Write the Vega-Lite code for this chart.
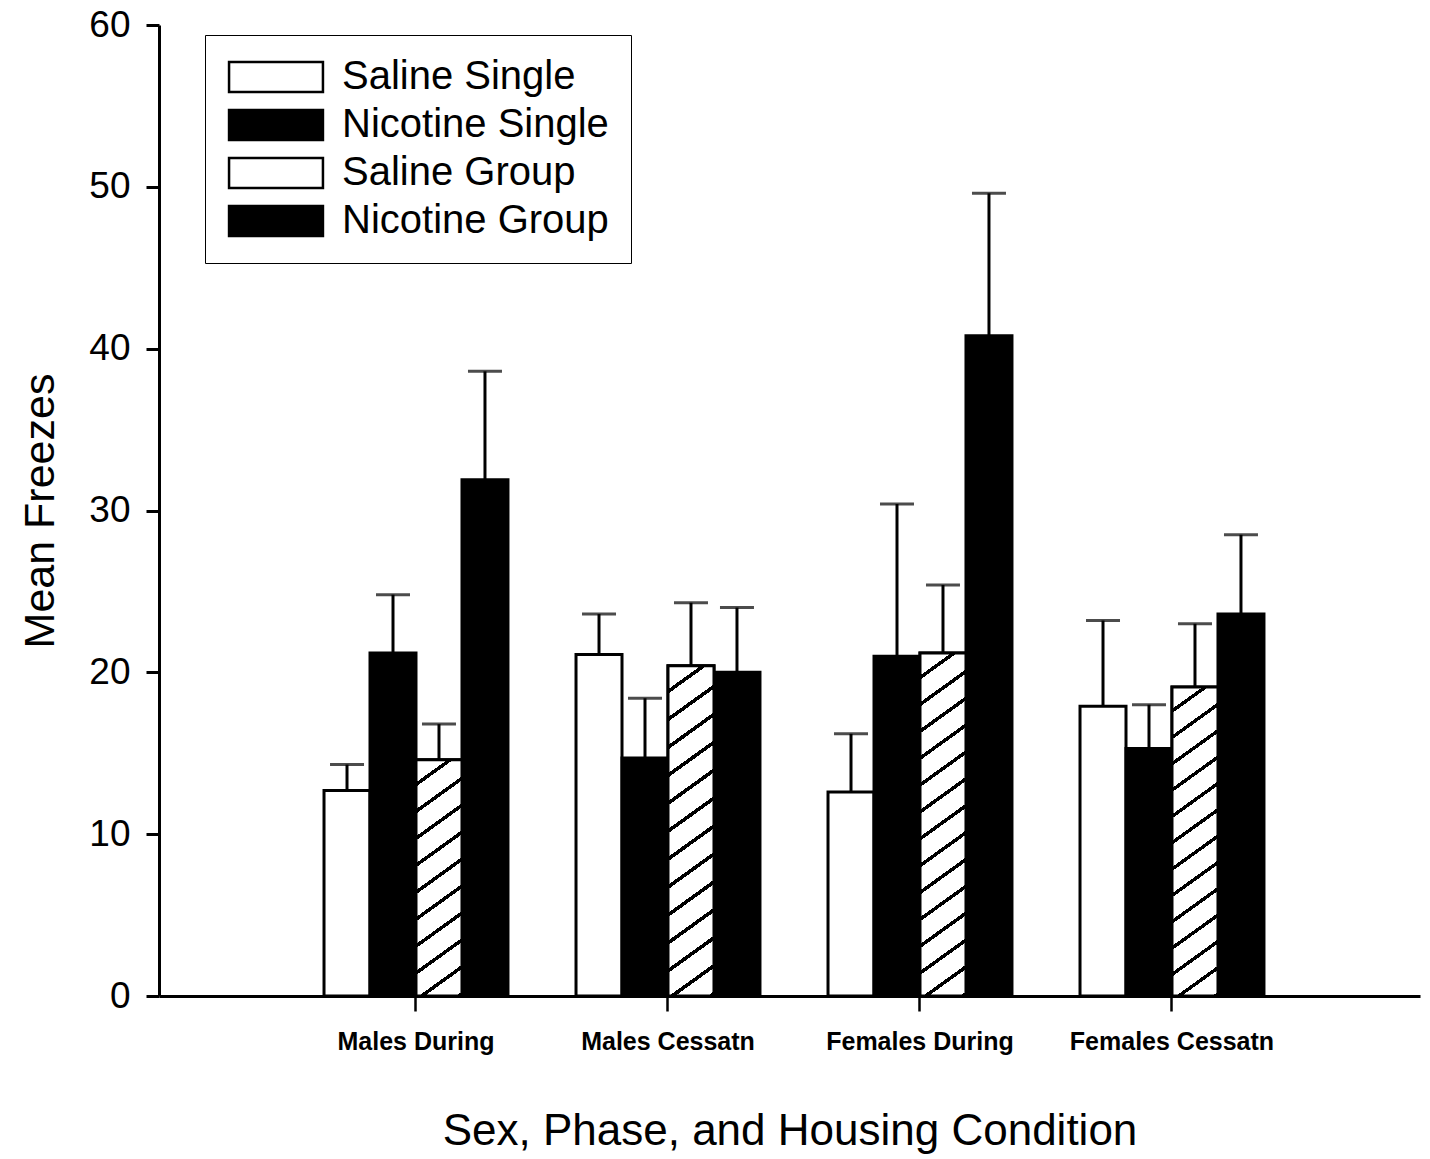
{
  "$schema": "https://vega.github.io/schema/vega-lite/v6.json",
  "width": 1261,
  "height": 971,
  "autosize": {"type": "none"},
  "padding": {"left": 159, "top": 25, "right": 10, "bottom": 163},
  "background": "white",
  "config": {"font": "Liberation Sans", "view": {"stroke": null}},
  "data": {
    "values": [
      {"condition": "Males During", "series": "Saline Single", "mean": 12.7, "upper": 14.3},
      {"condition": "Males During", "series": "Nicotine Single", "mean": 21.2, "upper": 24.8},
      {"condition": "Males During", "series": "Saline Group", "mean": 14.6, "upper": 16.8},
      {"condition": "Males During", "series": "Nicotine Group", "mean": 31.9, "upper": 38.6},
      {"condition": "Males Cessatn", "series": "Saline Single", "mean": 21.1, "upper": 23.6},
      {"condition": "Males Cessatn", "series": "Nicotine Single", "mean": 14.7, "upper": 18.4},
      {"condition": "Males Cessatn", "series": "Saline Group", "mean": 20.4, "upper": 24.3},
      {"condition": "Males Cessatn", "series": "Nicotine Group", "mean": 20.0, "upper": 24.0},
      {"condition": "Females During", "series": "Saline Single", "mean": 12.6, "upper": 16.2},
      {"condition": "Females During", "series": "Nicotine Single", "mean": 21.0, "upper": 30.4},
      {"condition": "Females During", "series": "Saline Group", "mean": 21.2, "upper": 25.4},
      {"condition": "Females During", "series": "Nicotine Group", "mean": 40.8, "upper": 49.6},
      {"condition": "Females Cessatn", "series": "Saline Single", "mean": 17.9, "upper": 23.2},
      {"condition": "Females Cessatn", "series": "Nicotine Single", "mean": 15.3, "upper": 18.0},
      {"condition": "Females Cessatn", "series": "Saline Group", "mean": 19.1, "upper": 23.0},
      {"condition": "Females Cessatn", "series": "Nicotine Group", "mean": 23.6, "upper": 28.5}
    ]
  },
  "encoding": {
    "x": {
      "field": "condition",
      "type": "nominal",
      "sort": ["Males During", "Males Cessatn", "Females During", "Females Cessatn"],
      "scale": {"paddingInner": 0.27, "paddingOuter": 0.637, "align": 0.514},
      "title": "Sex, Phase, and Housing Condition",
      "axis": {
        "labelAngle": 0,
        "domainColor": "black",
        "domainWidth": 3,
        "ticks": true,
        "tickColor": "black",
        "tickWidth": 2.5,
        "tickSize": 15,
        "labelFontSize": 25,
        "labelFontWeight": "bold",
        "labelColor": "black",
        "labelPadding": 18,
        "labelLimit": 400,
        "titleFontSize": 44,
        "titleFontWeight": "normal",
        "titleColor": "black",
        "titlePadding": 55,
        "grid": false
      }
    },
    "xOffset": {
      "field": "series",
      "type": "nominal",
      "scale": {
        "domain": ["Saline Single", "Nicotine Single", "Saline Group", "Nicotine Group"],
        "paddingInner": 0,
        "paddingOuter": 0
      }
    }
  },
  "layer": [
    {
      "mark": {"type": "bar", "stroke": "black", "strokeWidth": 3},
      "encoding": {
        "y": {
          "field": "mean",
          "type": "quantitative",
          "scale": {"domain": [0, 60], "nice": false},
          "title": "Mean Freezes",
          "axis": {
            "values": [0, 10, 20, 30, 40, 50, 60],
            "domainColor": "black",
            "domainWidth": 3,
            "tickColor": "black",
            "tickWidth": 3,
            "tickSize": 13,
            "labelFontSize": 37,
            "labelColor": "black",
            "labelPadding": 16,
            "grid": false,
            "titleFontSize": 43,
            "titleFontWeight": "normal",
            "titleColor": "black",
            "titlePadding": 26
          }
        },
        "fill": {
          "field": "series",
          "type": "nominal",
          "scale": {
            "domain": ["Saline Single", "Nicotine Single", "Saline Group", "Nicotine Group"],
            "range": ["white", "black", "white", "black"]
          },
          "legend": {
            "orient": "none",
            "legendX": 46,
            "legendY": 10,
            "title": null,
            "direction": "vertical",
            "symbolType": "M-3.13,-1H3.13V1H-3.13Z",
            "symbolSize": 900,
            "symbolOffset": 29,
            "symbolStrokeColor": "black",
            "symbolStrokeWidth": 2.5,
            "labelFontSize": 40,
            "labelColor": "black",
            "labelOffset": 46,
            "labelLimit": 500,
            "rowPadding": 8,
            "padding": 22,
            "strokeColor": "black",
            "fillColor": "white"
          }
        }
      }
    },
    {
      "transform": [{"filter": "datum.series === 'Saline Group' && datum.condition === 'Males During'"}],
      "mark": {
        "type": "bar", "stroke": "black", "strokeWidth": 3,
        "fill": {
          "gradient": "linear",
          "x1": 0, "y1": 0, "x2": 0.157, "y2": 1.118,
          "stops": [
            {"offset": 0, "color": "white"}, {"offset": 0.084, "color": "white"}, {"offset": 0.084, "color": "black"}, {"offset": 0.1, "color": "black"},
            {"offset": 0.1, "color": "white"}, {"offset": 0.184, "color": "white"}, {"offset": 0.184, "color": "black"}, {"offset": 0.2, "color": "black"},
            {"offset": 0.2, "color": "white"}, {"offset": 0.284, "color": "white"}, {"offset": 0.284, "color": "black"}, {"offset": 0.3, "color": "black"},
            {"offset": 0.3, "color": "white"}, {"offset": 0.384, "color": "white"}, {"offset": 0.384, "color": "black"}, {"offset": 0.4, "color": "black"},
            {"offset": 0.4, "color": "white"}, {"offset": 0.484, "color": "white"}, {"offset": 0.484, "color": "black"}, {"offset": 0.5, "color": "black"},
            {"offset": 0.5, "color": "white"}, {"offset": 0.584, "color": "white"}, {"offset": 0.584, "color": "black"}, {"offset": 0.6, "color": "black"},
            {"offset": 0.6, "color": "white"}, {"offset": 0.684, "color": "white"}, {"offset": 0.684, "color": "black"}, {"offset": 0.7, "color": "black"},
            {"offset": 0.7, "color": "white"}, {"offset": 0.784, "color": "white"}, {"offset": 0.784, "color": "black"}, {"offset": 0.8, "color": "black"},
            {"offset": 0.8, "color": "white"}, {"offset": 0.884, "color": "white"}, {"offset": 0.884, "color": "black"}, {"offset": 0.9, "color": "black"},
            {"offset": 0.9, "color": "white"}, {"offset": 0.984, "color": "white"}, {"offset": 0.984, "color": "black"}, {"offset": 1, "color": "black"}
          ]
        }
      },
      "encoding": {"y": {"field": "mean", "type": "quantitative"}}
    },
    {
      "transform": [{"filter": "datum.series === 'Saline Group' && datum.condition === 'Males Cessatn'"}],
      "mark": {
        "type": "bar", "stroke": "black", "strokeWidth": 3,
        "fill": {
          "gradient": "linear",
          "x1": 0, "y1": 0, "x2": 0.1093, "y2": 1.089,
          "stops": [
            {"offset": 0, "color": "white"}, {"offset": 0.0646, "color": "white"}, {"offset": 0.0646, "color": "black"}, {"offset": 0.0769, "color": "black"},
            {"offset": 0.0769, "color": "white"}, {"offset": 0.1415, "color": "white"}, {"offset": 0.1415, "color": "black"}, {"offset": 0.1538, "color": "black"},
            {"offset": 0.1538, "color": "white"}, {"offset": 0.2185, "color": "white"}, {"offset": 0.2185, "color": "black"}, {"offset": 0.2308, "color": "black"},
            {"offset": 0.2308, "color": "white"}, {"offset": 0.2954, "color": "white"}, {"offset": 0.2954, "color": "black"}, {"offset": 0.3077, "color": "black"},
            {"offset": 0.3077, "color": "white"}, {"offset": 0.3723, "color": "white"}, {"offset": 0.3723, "color": "black"}, {"offset": 0.3846, "color": "black"},
            {"offset": 0.3846, "color": "white"}, {"offset": 0.4492, "color": "white"}, {"offset": 0.4492, "color": "black"}, {"offset": 0.4615, "color": "black"},
            {"offset": 0.4615, "color": "white"}, {"offset": 0.5262, "color": "white"}, {"offset": 0.5262, "color": "black"}, {"offset": 0.5385, "color": "black"},
            {"offset": 0.5385, "color": "white"}, {"offset": 0.6031, "color": "white"}, {"offset": 0.6031, "color": "black"}, {"offset": 0.6154, "color": "black"},
            {"offset": 0.6154, "color": "white"}, {"offset": 0.68, "color": "white"}, {"offset": 0.68, "color": "black"}, {"offset": 0.6923, "color": "black"},
            {"offset": 0.6923, "color": "white"}, {"offset": 0.7569, "color": "white"}, {"offset": 0.7569, "color": "black"}, {"offset": 0.7692, "color": "black"},
            {"offset": 0.7692, "color": "white"}, {"offset": 0.8338, "color": "white"}, {"offset": 0.8338, "color": "black"}, {"offset": 0.8462, "color": "black"},
            {"offset": 0.8462, "color": "white"}, {"offset": 0.9108, "color": "white"}, {"offset": 0.9108, "color": "black"}, {"offset": 0.9231, "color": "black"},
            {"offset": 0.9231, "color": "white"}, {"offset": 0.9877, "color": "white"}, {"offset": 0.9877, "color": "black"}, {"offset": 1, "color": "black"}
          ]
        }
      },
      "encoding": {"y": {"field": "mean", "type": "quantitative"}}
    },
    {
      "transform": [{"filter": "datum.series === 'Saline Group' && datum.condition === 'Females During'"}],
      "mark": {
        "type": "bar", "stroke": "black", "strokeWidth": 3,
        "fill": {
          "gradient": "linear",
          "x1": 0, "y1": 0, "x2": 0.1048, "y2": 1.086,
          "stops": [
            {"offset": 0, "color": "white"}, {"offset": 0.06, "color": "white"}, {"offset": 0.06, "color": "black"}, {"offset": 0.0714, "color": "black"},
            {"offset": 0.0714, "color": "white"}, {"offset": 0.1314, "color": "white"}, {"offset": 0.1314, "color": "black"}, {"offset": 0.1429, "color": "black"},
            {"offset": 0.1429, "color": "white"}, {"offset": 0.2029, "color": "white"}, {"offset": 0.2029, "color": "black"}, {"offset": 0.2143, "color": "black"},
            {"offset": 0.2143, "color": "white"}, {"offset": 0.2743, "color": "white"}, {"offset": 0.2743, "color": "black"}, {"offset": 0.2857, "color": "black"},
            {"offset": 0.2857, "color": "white"}, {"offset": 0.3457, "color": "white"}, {"offset": 0.3457, "color": "black"}, {"offset": 0.3571, "color": "black"},
            {"offset": 0.3571, "color": "white"}, {"offset": 0.4171, "color": "white"}, {"offset": 0.4171, "color": "black"}, {"offset": 0.4286, "color": "black"},
            {"offset": 0.4286, "color": "white"}, {"offset": 0.4886, "color": "white"}, {"offset": 0.4886, "color": "black"}, {"offset": 0.5, "color": "black"},
            {"offset": 0.5, "color": "white"}, {"offset": 0.56, "color": "white"}, {"offset": 0.56, "color": "black"}, {"offset": 0.5714, "color": "black"},
            {"offset": 0.5714, "color": "white"}, {"offset": 0.6314, "color": "white"}, {"offset": 0.6314, "color": "black"}, {"offset": 0.6429, "color": "black"},
            {"offset": 0.6429, "color": "white"}, {"offset": 0.7029, "color": "white"}, {"offset": 0.7029, "color": "black"}, {"offset": 0.7143, "color": "black"},
            {"offset": 0.7143, "color": "white"}, {"offset": 0.7743, "color": "white"}, {"offset": 0.7743, "color": "black"}, {"offset": 0.7857, "color": "black"},
            {"offset": 0.7857, "color": "white"}, {"offset": 0.8457, "color": "white"}, {"offset": 0.8457, "color": "black"}, {"offset": 0.8571, "color": "black"},
            {"offset": 0.8571, "color": "white"}, {"offset": 0.9171, "color": "white"}, {"offset": 0.9171, "color": "black"}, {"offset": 0.9286, "color": "black"},
            {"offset": 0.9286, "color": "white"}, {"offset": 0.9886, "color": "white"}, {"offset": 0.9886, "color": "black"}, {"offset": 1, "color": "black"}
          ]
        }
      },
      "encoding": {"y": {"field": "mean", "type": "quantitative"}}
    },
    {
      "transform": [{"filter": "datum.series === 'Saline Group' && datum.condition === 'Females Cessatn'"}],
      "mark": {
        "type": "bar", "stroke": "black", "strokeWidth": 3,
        "fill": {
          "gradient": "linear",
          "x1": 0, "y1": 0, "x2": 0.1172, "y2": 1.095,
          "stops": [
            {"offset": 0, "color": "white"}, {"offset": 0.0646, "color": "white"}, {"offset": 0.0646, "color": "black"}, {"offset": 0.0769, "color": "black"},
            {"offset": 0.0769, "color": "white"}, {"offset": 0.1415, "color": "white"}, {"offset": 0.1415, "color": "black"}, {"offset": 0.1538, "color": "black"},
            {"offset": 0.1538, "color": "white"}, {"offset": 0.2185, "color": "white"}, {"offset": 0.2185, "color": "black"}, {"offset": 0.2308, "color": "black"},
            {"offset": 0.2308, "color": "white"}, {"offset": 0.2954, "color": "white"}, {"offset": 0.2954, "color": "black"}, {"offset": 0.3077, "color": "black"},
            {"offset": 0.3077, "color": "white"}, {"offset": 0.3723, "color": "white"}, {"offset": 0.3723, "color": "black"}, {"offset": 0.3846, "color": "black"},
            {"offset": 0.3846, "color": "white"}, {"offset": 0.4492, "color": "white"}, {"offset": 0.4492, "color": "black"}, {"offset": 0.4615, "color": "black"},
            {"offset": 0.4615, "color": "white"}, {"offset": 0.5262, "color": "white"}, {"offset": 0.5262, "color": "black"}, {"offset": 0.5385, "color": "black"},
            {"offset": 0.5385, "color": "white"}, {"offset": 0.6031, "color": "white"}, {"offset": 0.6031, "color": "black"}, {"offset": 0.6154, "color": "black"},
            {"offset": 0.6154, "color": "white"}, {"offset": 0.68, "color": "white"}, {"offset": 0.68, "color": "black"}, {"offset": 0.6923, "color": "black"},
            {"offset": 0.6923, "color": "white"}, {"offset": 0.7569, "color": "white"}, {"offset": 0.7569, "color": "black"}, {"offset": 0.7692, "color": "black"},
            {"offset": 0.7692, "color": "white"}, {"offset": 0.8338, "color": "white"}, {"offset": 0.8338, "color": "black"}, {"offset": 0.8462, "color": "black"},
            {"offset": 0.8462, "color": "white"}, {"offset": 0.9108, "color": "white"}, {"offset": 0.9108, "color": "black"}, {"offset": 0.9231, "color": "black"},
            {"offset": 0.9231, "color": "white"}, {"offset": 0.9877, "color": "white"}, {"offset": 0.9877, "color": "black"}, {"offset": 1, "color": "black"}
          ]
        }
      },
      "encoding": {"y": {"field": "mean", "type": "quantitative"}}
    },
    {
      "mark": {"type": "rule", "strokeWidth": 3, "color": "black"},
      "encoding": {
        "y": {"field": "mean", "type": "quantitative"},
        "y2": {"field": "upper"}
      }
    },
    {
      "mark": {"type": "tick", "thickness": 3, "size": 34, "color": "black"},
      "encoding": {
        "y": {"field": "upper", "type": "quantitative"}
      }
    }
  ]
}
